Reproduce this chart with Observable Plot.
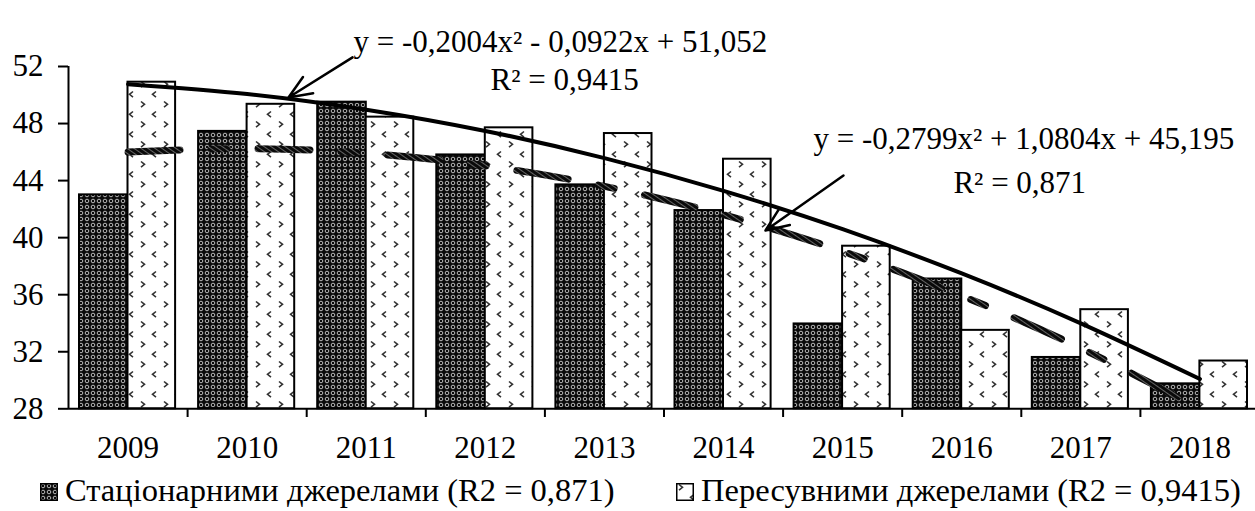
<!DOCTYPE html>
<html><head><meta charset="utf-8">
<script src="https://cdn.jsdelivr.net/npm/d3@7"></script>
<script src="https://cdn.jsdelivr.net/npm/@observablehq/plot@0.6"></script>
<style>
body{margin:0;background:#fff;}
#wrap{position:relative;width:1255px;height:511px;overflow:hidden;font-family:"Liberation Serif","Times New Roman",serif;background:#fff;}
.leg{position:absolute;top:474px;font-family:"Liberation Serif","Times New Roman",serif;font-size:32.5px;line-height:1;white-space:nowrap;color:#000;}
.leg svg{vertical-align:baseline;margin-right:7px;}
</style></head><body>
<svg width="0" height="0" style="position:absolute">
<defs>
<pattern id="darkPat" width="6" height="6" patternUnits="userSpaceOnUse">
  <rect width="6" height="6" fill="#0a0a0a"/>
  <circle cx="3" cy="3" r="1.8" fill="none" stroke="#b8b8b8" stroke-width="1"/>
</pattern>
<pattern id="lightPat" width="23" height="20" patternUnits="userSpaceOnUse">
  <rect width="23" height="20" fill="#fff"/>
  <path d="M3,1.5 l3.5,2.8 l-3.5,2.8 M18,11.5 l-3.5,2.8 l3.5,2.8" fill="none" stroke="#333" stroke-width="1.6"/>
</pattern>
<pattern id="hatch" width="4" height="4" patternUnits="userSpaceOnUse" patternTransform="rotate(35)">
  <rect width="4" height="4" fill="#0a0a0a"/>
  <rect width="4" height="0.9" fill="#6e6e6e"/>
</pattern>
</defs></svg>
<div id="wrap">
  <div id="chart"></div>
  <div class="leg" style="left:40px"><svg width="18" height="18"><rect x="0.75" y="0.75" width="16.5" height="16.5" fill="url(#darkPat)" stroke="#000" stroke-width="1.5"/></svg>Стаціонарними джерелами (R2 = 0,871)</div>
  <div class="leg" style="left:676px"><svg width="18" height="18"><rect x="0.75" y="0.75" width="16.5" height="16.5" fill="url(#lightPat)" stroke="#000" stroke-width="1.5"/></svg>Пересувними джерелами (R2 = 0,9415)</div>
</div>
<script>
const years = [2009, 2010, 2011, 2012, 2013, 2014, 2015, 2016, 2017, 2018];
const stationary = [43.0, 47.45, 49.5, 45.8, 43.7, 41.9, 33.95, 37.1, 31.6, 29.75];
const mobile = [50.9, 49.35, 48.45, 47.7, 47.3, 45.5, 39.4, 33.5, 34.95, 31.35];
const stationaryTrend = [46.00, 46.24, 45.92, 45.04, 43.60, 41.60, 39.04, 35.92, 32.25, 28.01];
const mobileTrend = [50.76, 50.07, 48.97, 47.48, 45.58, 43.28, 40.59, 37.49, 33.99, 30.09];
const yTicks = [28, 32, 36, 40, 44, 48, 52];
const eqMobile = ["y = -0,2004x² - 0,0922x + 51,052", "R² = 0,9415"];
const eqStationary = ["y = -0,2799x² + 1,0804x + 45,195", "R² = 0,871"];

const rows = (vals) => years.map((y, i) => ({year: y, value: vals[i]}));
const statData = rows(stationary);
const mobData = rows(mobile);
const statTrendData = rows(stationaryTrend);
const mobTrendData = rows(mobileTrend);
const boundaries = years.slice(0, -1).map(y => y + 0.5);

const font = "'Liberation Serif','Times New Roman',serif";

const chart = Plot.plot({
  width: 1255,
  height: 462,
  marginLeft: 68,
  marginRight: 0,
  marginTop: 66,
  marginBottom: 54,
  x: {domain: [2008.5, 2018.5], range: [68, 1259], label: null},
  y: {domain: [28, 52], range: [408.3, 66], label: null},
  style: {fontFamily: font, fontSize: "31px", color: "#000", background: "#fff", overflow: "visible"},
  marks: [
    Plot.rectY(statData, {x1: d => d.year - 0.5, x2: d => d.year + 0.5, y1: 28, y2: "value",
      insetLeft: 11, insetRight: 59.5, fill: "url(#darkPat)", stroke: "#000", strokeWidth: 2}),
    Plot.rectY(mobData, {x1: d => d.year - 0.5, x2: d => d.year + 0.5, y1: 28, y2: "value",
      insetLeft: 59.5, insetRight: 12, fill: "url(#lightPat)", stroke: "#000", strokeWidth: 2}),
    Plot.line(statTrendData, {x: "year", y: "value", curve: "natural", stroke: "url(#hatch)",
      strokeWidth: 7, strokeDasharray: "52,31,16,31"}),
    Plot.line(mobTrendData, {x: "year", y: "value", curve: "natural", stroke: "#000", strokeWidth: 4}),
    Plot.ruleY([28], {stroke: "#000", strokeWidth: 2}),
    Plot.ruleX([2008.5], {y1: 28, y2: 52, stroke: "#000", strokeWidth: 2}),
    Plot.axisY({ticks: yTicks, label: null, tickSize: 10, tickPadding: 15, fontSize: 31, strokeWidth: 2, tickFormat: d => String(d)}),
    Plot.axisX({ticks: years, label: null, tickSize: 0, tickPadding: 27, fontSize: 31, tickFormat: d => String(d)}),
    Plot.axisX({ticks: boundaries, label: null, tickSize: 9, strokeWidth: 2, tickFormat: () => ""}),
    Plot.text([eqMobile[0]], {x: 2010.893, y: 52.99, text: d => d, textAnchor: "start", lineAnchor: "bottom", fontSize: 31}),
    Plot.text([eqMobile[1]], {x: 2012.043, y: 50.32, text: d => d, textAnchor: "start", lineAnchor: "bottom", fontSize: 31}),
    Plot.text([eqStationary[0]], {x: 2014.755, y: 46.25, text: d => d, textAnchor: "start", lineAnchor: "bottom", fontSize: 31}),
    Plot.text([eqStationary[1]], {x: 2015.93, y: 43.10, text: d => d, textAnchor: "start", lineAnchor: "bottom", fontSize: 31}),
    Plot.arrow([0], {x1: 2010.885, y1: 52.64, x2: 2010.347, y2: 49.83, stroke: "#000", strokeWidth: 2.5, headLength: 15, headAngle: 45}),
    Plot.arrow([0], {x1: 2015.007, y1: 44.36, x2: 2014.352, y2: 40.5, stroke: "#000", strokeWidth: 2.5, headLength: 15, headAngle: 45})
  ]
});
document.getElementById("chart").appendChild(chart);
</script>
</body></html>
